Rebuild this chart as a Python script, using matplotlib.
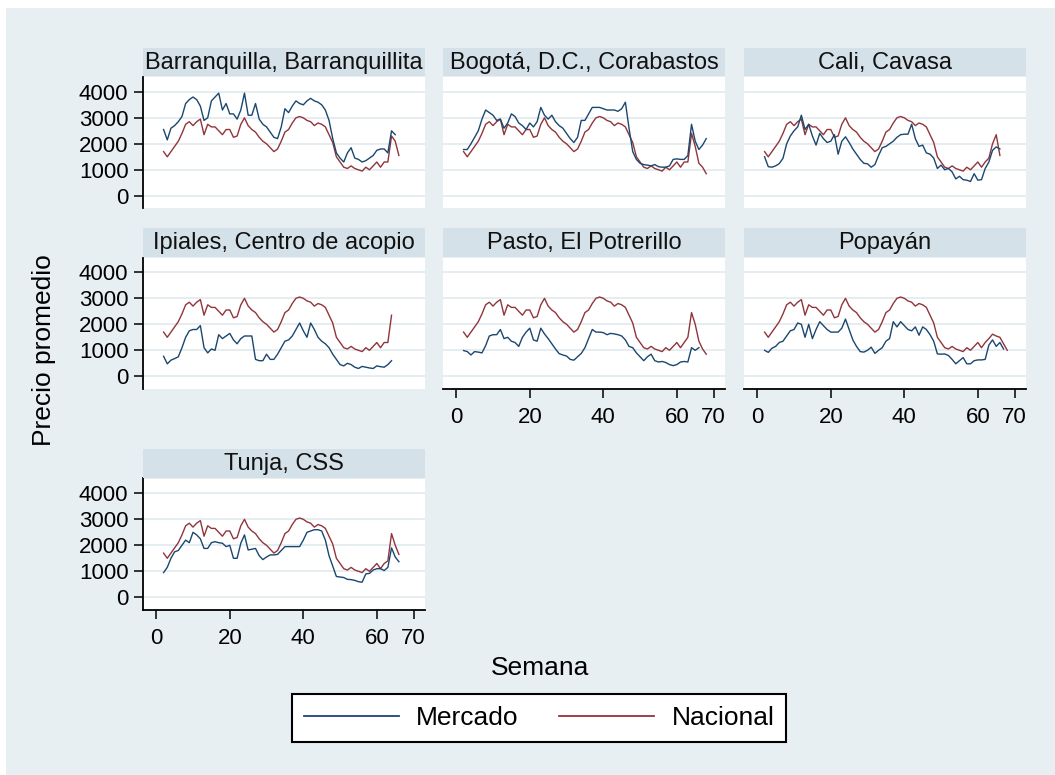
import numpy as np
import matplotlib
matplotlib.use("Agg")
import matplotlib.pyplot as plt
from matplotlib.lines import Line2D
from matplotlib.patches import Rectangle

plt.rcParams['font.family'] = ['Liberation Sans', 'DejaVu Sans']

# ---------------- data ----------------
semana_inicio = 2
x_ticks = [0, 20, 40, 60, 70]
y_ticks = [0, 1000, 2000, 3000, 4000]

titulos = ["Barranquilla, Barranquillita", "Bogotá, D.C., Corabastos", "Cali, Cavasa",
           "Ipiales, Centro de acopio", "Pasto, El Potrerillo", "Popayán", "Tunja, CSS"]

# national price, weeks 2..62 (shared by all panels)
nacional_base = [1700, 1500, 1700, 1900, 2100, 2400, 2750, 2850, 2700, 2850,
                 2950, 2350, 2750, 2650, 2650, 2500, 2350, 2550, 2550, 2250,
                 2300, 2750, 3000, 2700, 2550, 2450, 2250, 2100, 2000, 1850,
                 1700, 1800, 2100, 2450, 2550, 2800, 3000, 3050, 3000, 2900,
                 2850, 2700, 2800, 2750, 2650, 2350, 2050, 1500, 1300, 1100,
                 1050, 1150, 1050, 1000, 950, 1100, 1000, 1150, 1300, 1100,
                 1300]
# national price tails, weeks 63.. (differ by panel)
nac_cola_barranquilla = [1300, 2300, 2100, 1550]
nac_cola_bogota = [1300, 2400, 1900, 1250, 1100, 850]
nac_cola_cali = [1450, 2000, 2350, 1550]
nac_cola_ipiales = [1300, 2350]
nac_cola_pasto = [1500, 2450, 2000, 1350, 1050, 850]
nac_cola_popayan = [1450, 1620, 1550, 1500, 1250, 1000]
nac_cola_tunja = [1400, 2450, 2000, 1650]

# market prices, starting week 2
barranquilla = [2550, 2150, 2600, 2700, 2850, 3050, 3550, 3700, 3800, 3700,
                3450, 2900, 3000, 3650, 3800, 3950, 3300, 3550, 3150, 3150,
                2950, 3300, 3950, 3100, 3100, 3550, 2950, 2750, 2650, 2450,
                2250, 2200, 2650, 3350, 3200, 3450, 3650, 3550, 3500, 3650,
                3750, 3650, 3600, 3500, 3300, 2900, 2200, 1650, 1450, 1300,
                1650, 1850, 1450, 1400, 1300, 1350, 1450, 1550, 1750, 1800,
                1800, 1650, 2500, 2350]
bogota = [1780, 1780, 2000, 2250, 2500, 2950, 3300, 3200, 3100, 2900,
          2950, 2600, 2800, 3150, 3050, 2800, 2700, 2550, 2800, 2650,
          2850, 3400, 3100, 2950, 3100, 2850, 2700, 2600, 2400, 2200,
          2050, 2250, 2900, 2900, 3150, 3400, 3400, 3400, 3350, 3300,
          3300, 3300, 3250, 3350, 3600, 2600, 1700, 1400, 1250, 1200,
          1180, 1150, 1200, 1120, 1100, 1100, 1150, 1400, 1420, 1400,
          1400, 1550, 2750, 2100, 1780, 1950, 2200]
cali = [1500, 1120, 1100, 1150, 1240, 1440, 2000, 2300, 2500, 2650,
        3100, 2550, 2750, 2300, 1950, 2400, 2200, 2050, 2100, 2350,
        1600, 2100, 2270, 2050, 1800, 1600, 1400, 1250, 1230, 1100,
        1200, 1550, 1850, 1900, 2000, 2100, 2250, 2350, 2370, 2370,
        2750, 2200, 1900, 1950, 1650, 1600, 1450, 1050, 1180, 1000,
        1050, 920, 650, 750, 620, 600, 550, 850, 600, 620,
        1050, 1300, 1750, 1880, 1800]
ipiales = [770, 480, 620, 680, 750, 1100, 1500, 1750, 1800, 1800,
           1950, 1100, 900, 1050, 1000, 1600, 1450, 1550, 1650, 1400,
           1250, 1450, 1550, 1550, 1550, 650, 600, 600, 850, 650,
           650, 850, 1100, 1350, 1400, 1550, 1800, 2050, 1750, 1500,
           2050, 1800, 1500, 1350, 1250, 1100, 850, 650, 450, 400,
           500, 450, 350, 300, 380, 350, 320, 300, 400, 370,
           350, 450, 600]
pasto = [990, 950, 820, 950, 930, 900, 1180, 1550, 1600, 1600,
         1800, 1450, 1500, 1350, 1300, 1150, 1500, 1700, 1850, 1400,
         1350, 1850, 1630, 1450, 1250, 1050, 870, 820, 780, 650,
         620, 750, 880, 1100, 1450, 1800, 1700, 1700, 1680, 1600,
         1650, 1630, 1600, 1550, 1400, 1150, 1100, 900, 750, 600,
         750, 850, 600, 550, 570, 530, 450, 410, 450, 550,
         570, 550, 1100, 1000, 1100]
popayan = [1000, 920, 1080, 1150, 1300, 1350, 1550, 1750, 1800, 2050,
           2000, 1500, 2000, 1450, 1800, 2100, 1950, 1800, 1700, 1700,
           1700, 1850, 2200, 1800, 1400, 1150, 950, 930, 1000, 1120,
           880, 1000, 1100, 1350, 1450, 2100, 1900, 2100, 1950, 1800,
           1750, 1900, 1580, 1900, 1800, 1600, 1350, 860, 850, 860,
           800, 650, 480, 600, 720, 480, 480, 600, 630, 630,
           650, 1200, 1400, 1150, 1300, 1050]
tunja = [950, 1150, 1500, 1750, 1800, 2000, 2200, 2100, 2500, 2400,
         2250, 1880, 1880, 2100, 2140, 2100, 2080, 1950, 2000, 1500,
         1500, 2080, 2400, 1820, 1850, 1880, 1600, 1450, 1550, 1630,
         1630, 1650, 1800, 1950, 1950, 1950, 1950, 1950, 2200, 2500,
         2550, 2600, 2600, 2550, 2200, 1600, 1200, 800, 780, 760,
         690, 680, 650, 600, 580, 900, 920, 1050, 1100, 1100,
         1030, 1150, 1900, 1550, 1370]

mercados = [barranquilla, bogota, cali, ipiales, pasto, popayan, tunja]
colas = [nac_cola_barranquilla, nac_cola_bogota, nac_cola_cali, nac_cola_ipiales,
         nac_cola_pasto, nac_cola_popayan, nac_cola_tunja]

# ---------------- style ----------------
BG = '#e8eff2'
STRIP = '#d5e1e8'
GRID = '#e4ecf0'
C_MERC = '#1a476f'
C_NAC = '#90353b'

W, H = 1055, 775
fig = plt.figure(figsize=(W / 100, H / 100), dpi=100)
fig.patch.set_facecolor('white')
fig.patches.append(Rectangle((6 / W, 0), 1 - 6 / W, 1 - 8 / H, transform=fig.transFigure,
                             facecolor=BG, edgecolor='none', zorder=-10))

def fx(px):
    return px / W

def fy(py):
    return 1 - py / H

col_left = [143, 443, 744]
col_w = 282
row_top = [77, 257.5, 478.5]
row_h = 131
strip_h = 28.5

layout = [(0, 0), (0, 1), (0, 2), (1, 0), (1, 1), (1, 2), (2, 0)]
bottom_panels = {4, 5, 6}

for i, (r, c) in enumerate(layout):
    left = col_left[c]
    top = row_top[r]
    ax = fig.add_axes([fx(left), fy(top + row_h), col_w / W, row_h / H])
    ax.set_facecolor('white')

    nac = nacional_base + colas[i]
    merc = mercados[i]
    sem_nac = np.arange(semana_inicio, semana_inicio + len(nac))
    sem_merc = np.arange(semana_inicio, semana_inicio + len(merc))
    ax.plot(sem_merc, merc, color=C_MERC, lw=1.0, zorder=3)
    ax.plot(sem_nac, nac, color=C_NAC, lw=1.0, zorder=2)

    ax.set_xlim(-3.6, 73.1)
    ax.set_ylim(-470, 4570)
    ax.set_yticks(y_ticks)
    ax.set_xticks(x_ticks)
    ax.yaxis.grid(True, color=GRID, lw=1.3)
    ax.set_axisbelow(True)

    for s in ['top', 'right']:
        ax.spines[s].set_visible(False)
    ax.spines['left'].set_visible(c == 0)
    ax.spines['bottom'].set_visible(i in bottom_panels)
    for s in ['left', 'bottom']:
        ax.spines[s].set_linewidth(1.3)
        ax.spines[s].set_color('black')

    ax.tick_params(axis='y', left=(c == 0), labelleft=(c == 0), length=6.5, width=1.1,
                   pad=4, labelsize=16)
    ax.tick_params(axis='x', bottom=(i in bottom_panels), labelbottom=(i in bottom_panels),
                   length=6.5, width=1.1, pad=6.5, labelsize=16)

    sax = fig.add_axes([fx(left), fy(top - 1), col_w / W, strip_h / H])
    sax.set_facecolor(STRIP)
    sax.set_xticks([])
    sax.set_yticks([])
    for s in sax.spines.values():
        s.set_visible(False)
    sax.text(0.5, 0.47, titulos[i], ha='center', va='center', fontsize=17,
             transform=sax.transAxes, color='#111111')

fig.text(fx(44), fy(350), 'Precio promedio', rotation=90, ha='center', va='center', fontsize=19)
fig.text(fx(540), fy(668), 'Semana', ha='center', va='center', fontsize=19)

handles = [Line2D([0], [0], color=C_MERC, lw=1.3), Line2D([0], [0], color=C_NAC, lw=1.3)]
leg = fig.legend(handles, ['Mercado', 'Nacional'], ncol=2, loc='center',
                 bbox_to_anchor=(fx(539), fy(718)), fontsize=19, frameon=True,
                 fancybox=False, edgecolor='black', facecolor='white', framealpha=1,
                 handlelength=3.6, handletextpad=0.65, columnspacing=1.55, borderpad=0.45)
leg.get_frame().set_linewidth(1.5)

fig.savefig('out.png', dpi=100, facecolor=fig.get_facecolor())
